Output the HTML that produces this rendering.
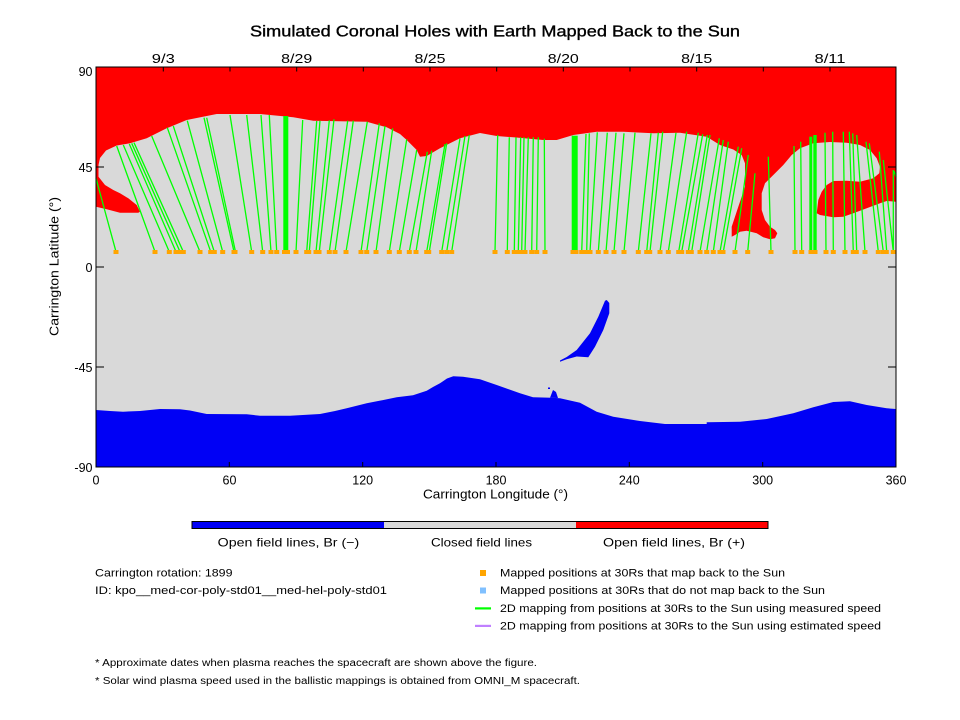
<!DOCTYPE html>
<html><head><meta charset="utf-8"><style>
html,body{margin:0;padding:0;background:#fff;}
svg{display:block;}
text{font-family:"Liberation Sans",sans-serif;fill:#000;}
</style></head><body>
<svg width="960" height="720" viewBox="0 0 960 720" xmlns="http://www.w3.org/2000/svg">
<rect width="960" height="720" fill="#fff"/>
<!-- title -->
<text x="495" y="36.5" font-size="16" text-anchor="middle" textLength="490" lengthAdjust="spacingAndGlyphs" stroke="#000" stroke-width="0.35">Simulated Coronal Holes with Earth Mapped Back to the Sun</text>
<!-- date labels -->
<g font-size="13" text-anchor="middle">
<text x="163.3" y="63" textLength="23" lengthAdjust="spacingAndGlyphs">9/3</text>
<text x="296.7" y="63" textLength="31" lengthAdjust="spacingAndGlyphs">8/29</text>
<text x="430" y="63" textLength="31" lengthAdjust="spacingAndGlyphs">8/25</text>
<text x="563.3" y="63" textLength="31" lengthAdjust="spacingAndGlyphs">8/20</text>
<text x="696.7" y="63" textLength="31" lengthAdjust="spacingAndGlyphs">8/15</text>
<text x="830" y="63" textLength="31" lengthAdjust="spacingAndGlyphs">8/11</text>
</g>
<!-- plot background -->
<rect x="96" y="67" width="800" height="400" fill="#d9d9d9"/>
<!-- red region -->
<polygon fill="#ff0000" points="96,67 896,67 896,201.7 886.7,201 880,203.3 866.7,208.3 853.3,213.3 843.3,216.7 833.3,217.3 820,215 816.7,213.3 818.3,200 821.7,191.7 826.7,185 833.3,181 846.7,180.7 860,181.7 873.3,178.3 879.3,173.3 880,166.7 876.7,158.3 870,150 860,145 846.7,142.7 830,142 813.3,143.3 800,148.3 791.7,155 783.3,165 773.3,175 765,183.3 761.7,193.3 761.7,210 765,220 770,226.7 775,230 777.3,233.3 775,238.3 770,239.3 763.3,237.3 756.7,233.3 746.7,230.7 740,231.7 735,235 731.7,236.7 731.7,226.7 735,216.7 738.3,206.7 741.7,196.7 745,186.7 745,163.3 741.7,155 733.3,149.5 720,145 706.7,136.7 680,132.7 653.3,133.3 623.3,131.7 596.7,131.7 573.3,135 556.7,140 543.3,140 513.3,137.3 496.7,136 480,133 460,138.3 440,148.3 426.7,156 420,156.7 416.7,150 406.7,140 400,134 386.7,127.3 366.7,121.7 313.3,120.7 293.3,117.3 260,114 216.7,114 186.7,120 166.7,128.3 146.7,138.3 130,143.3 116.7,145.5 106,150.5 100,158 98.5,165 98.5,176.7 105,185 113.3,190 120,193.3 128.3,198.3 136.7,205 140,211.7 138.3,212.7 120,212.7 106.7,209.3 96,206.7"/>
<!-- blue bottom -->
<polygon fill="#0000f5" points="96,467 96,410 110,411 123,411.7 140,411 160,409 180,409.3 190,410.5 206.7,414 246.7,414.3 260,415.7 290,415.7 320,414 335,411 346.7,408.3 366.7,403.3 396.7,397.3 413,395.3 426.7,390.7 433,387 440,383.3 447,378.5 453.3,376.3 463,376.7 480,379.3 496.7,385 520,393.3 533,397.3 551.7,397.7 560,398.3 580,402.7 596.7,411.7 613.3,416.7 640,421 665,424 706.7,424 706.7,422.3 740,421.7 766.7,419 793.3,413.3 813.3,407.3 833.3,402 850,401.3 866.7,405 886.7,408.3 896,409 896,467"/>
<polygon fill="#0000f5" points="550,397.7 553,390 556,392 558,398"/>
<rect x="548" y="387.5" width="2" height="1.5" fill="#0000f5"/>
<!-- blue crescent -->
<polygon fill="#0000f5" points="560,361.7 566.7,359.3 576.7,356.5 588.3,357.3 595,346.7 603.3,330 609.3,313.3 609.3,303 606.7,300 605,300.7 598.3,316.7 590,333.3 576.7,350 566.7,357 560,360.5"/>
<!-- green lines -->
<g stroke="#00ff00" stroke-width="1.3" fill="none">
<path d="M116,251.7L96,178.3M155,251.7L116.7,146M169.3,251.7L123.3,145M176,251.7L129.3,144M180,251.7L131.7,143.3M183.3,251.7L134,142.7M200,251.7L151.7,136M210.7,251.7L167.3,127.7M214.3,251.7L173.3,126M222.7,251.7L187.3,120.7M234,251.7L204,117.7M235.5,251.7L206.7,117.7M251.7,251.7L230,115M262.7,251.7L246.7,115M271,251.7L261,115M276.7,251.7L269.3,115M296,251.7L302.7,120M306.7,251.7L316.7,121M309.3,251.7L320,120.7M316,251.7L329.3,120.3M319.3,251.7L334,119.3M329.3,251.7L347.7,120.7M335,251.7L353.3,120.7M346,251.7L367.3,121.7M361,251.7L379.3,123.3M366.7,251.7L385,126M376,251.7L392.7,128.3M389.3,251.7L406.7,139.3M399.3,251.7L416.7,150M409.3,251.7L427.3,151.7M416,251.7L431.7,150.7M426.7,251.7L445,144M429.3,251.7L446.7,143.3M441.7,251.7L460,138.3M446.7,251.7L465,136M451.7,251.7L469.3,135M495,251.7L497.7,135"/>
<path d="M507.3,251.7L509.3,137.3M514.3,251.7L516,137.3M518.3,251.7L520.7,137.3M521.7,251.7L524,137.3M525,251.7L528.3,137.3M531.7,251.7L533.3,137.3M536.7,251.7L538.3,137.3M545,251.7L544.3,138.7M581.7,251.7L586,134M586.7,251.7L589.3,133.3M590,251.7L597.3,132.3M598.3,251.7L607.3,132.7M606,251.7L616,132.7M614,251.7L624,133.3M624,251.7L635,132.7M638.3,251.7L651,133.3M646.7,251.7L658.3,132.7M650,251.7L662.7,131.7M660,251.7L676,132.7M668.3,251.7L686.7,131.7M678.7,251.7L698.3,132.7M681.7,251.7L702.7,134.3M688.3,251.7L707.3,135M691.7,251.7L710,135M700,251.7L719.3,138.3M706.7,251.7L723.3,140M713.3,251.7L728.3,141.7M720,251.7L738.3,146.7M723.3,251.7L741.7,148.3M735,251.7L748.3,155M747.7,251.7L755,173.3M771,251.7L768.3,156.7M795,251.7L794,146M801.7,251.7L800.7,141.7M826,251.7L825,132.7M833.3,251.7L832.7,131.7M845,251.7L843.3,131.7M853.3,251.7L849.3,131.7M856.7,251.7L852.7,133.3M865,251.7L856.7,135M878.3,251.7L866,141.7M883.3,251.7L869.3,143.3M886.7,251.7L879.3,151.7M893.3,251.7L883.3,160M893.3,251.7L893.3,170M894,171L896,177"/>
</g>
<g fill="#00ff00">
<rect x="283.3" y="116" width="5" height="135.7"/>
<rect x="571.7" y="135.7" width="6" height="116"/>
<rect x="809.3" y="136.7" width="3" height="115"/>
<rect x="813.3" y="135" width="3.4" height="116.7"/>
</g>
<!-- orange dots -->
<g fill="#ffa500">
<rect x="113.5" y="250" width="5" height="4"/><rect x="152.5" y="250" width="5" height="4"/><rect x="166.8" y="250" width="5" height="4"/><rect x="173.5" y="250" width="5" height="4"/><rect x="177.5" y="250" width="5" height="4"/><rect x="180.8" y="250" width="5" height="4"/><rect x="197.5" y="250" width="5" height="4"/><rect x="208.2" y="250" width="5" height="4"/><rect x="211.8" y="250" width="5" height="4"/><rect x="220.2" y="250" width="5" height="4"/><rect x="231.5" y="250" width="6" height="4"/><rect x="249.2" y="250" width="5" height="4"/><rect x="260.2" y="250" width="5" height="4"/><rect x="268.5" y="250" width="5" height="4"/><rect x="274.2" y="250" width="5" height="4"/><rect x="282" y="250" width="8" height="4"/><rect x="293.5" y="250" width="5" height="4"/><rect x="304.2" y="250" width="7" height="4"/><rect x="313.5" y="250" width="8" height="4"/><rect x="326.8" y="250" width="5" height="4"/><rect x="332.5" y="250" width="5" height="4"/><rect x="343.5" y="250" width="5" height="4"/><rect x="358.5" y="250" width="5" height="4"/><rect x="364.2" y="250" width="5" height="4"/><rect x="373.5" y="250" width="5" height="4"/><rect x="386.8" y="250" width="5" height="4"/><rect x="396.8" y="250" width="5" height="4"/><rect x="406.8" y="250" width="5" height="4"/><rect x="413.5" y="250" width="5" height="4"/><rect x="424.2" y="250" width="7" height="4"/><rect x="439.2" y="250" width="5" height="4"/><rect x="444.2" y="250" width="5" height="4"/><rect x="449.2" y="250" width="5" height="4"/><rect x="492.5" y="250" width="5" height="4"/>
<rect x="504.8" y="250" width="5" height="4"/><rect x="511.8" y="250" width="5" height="4"/><rect x="515.8" y="250" width="8" height="4"/><rect x="522.5" y="250" width="5" height="4"/><rect x="529.2" y="250" width="5" height="4"/><rect x="534.2" y="250" width="5" height="4"/><rect x="542.5" y="250" width="5" height="4"/><rect x="570.5" y="250" width="8" height="4"/><rect x="579.2" y="250" width="9" height="4"/><rect x="587.5" y="250" width="5" height="4"/><rect x="595.8" y="250" width="5" height="4"/><rect x="603.5" y="250" width="5" height="4"/><rect x="611.5" y="250" width="5" height="4"/><rect x="621.5" y="250" width="5" height="4"/><rect x="635.8" y="250" width="5" height="4"/><rect x="644.2" y="250" width="8" height="4"/><rect x="657.5" y="250" width="5" height="4"/><rect x="665.8" y="250" width="5" height="4"/><rect x="676.2" y="250" width="8" height="4"/><rect x="685.8" y="250" width="8" height="4"/><rect x="697.5" y="250" width="5" height="4"/><rect x="704.2" y="250" width="5" height="4"/><rect x="710.8" y="250" width="5" height="4"/><rect x="717.5" y="250" width="8" height="4"/><rect x="732.5" y="250" width="5" height="4"/><rect x="745.2" y="250" width="5" height="4"/><rect x="768.5" y="250" width="5" height="4"/><rect x="792.5" y="250" width="5" height="4"/><rect x="799.2" y="250" width="5" height="4"/><rect x="808.5" y="250" width="9" height="4"/><rect x="823.5" y="250" width="5" height="4"/><rect x="830.8" y="250" width="5" height="4"/><rect x="842.5" y="250" width="5" height="4"/><rect x="850.8" y="250" width="8" height="4"/><rect x="862.5" y="250" width="5" height="4"/><rect x="875.8" y="250" width="5" height="4"/><rect x="880.8" y="250" width="8" height="4"/><rect x="890.8" y="250" width="5" height="4"/>
</g>
<!-- frame and ticks -->
<rect x="96" y="67" width="800" height="400" fill="none" stroke="#000" stroke-width="1"/>
<g stroke="#000" stroke-width="1">
<path d="M229.3,467v-5M362.7,467v-5M496,467v-5M629.3,467v-5M762.7,467v-5"/>
<path d="M163.3,67v4.5M230,67v4.5M296.7,67v4.5M363.3,67v4.5M430,67v4.5M496.7,67v4.5M563.3,67v4.5M630,67v4.5M696.7,67v4.5M763.3,67v4.5M830,67v4.5"/>
<path d="M96,167h8M96,267h8M96,367h8M896,167h-8M896,267h-8M896,367h-8"/>
</g>
<!-- y tick labels -->
<g font-size="12.5" text-anchor="end">
<text x="92.5" y="76">90</text>
<text x="92.5" y="172">45</text>
<text x="92.5" y="272">0</text>
<text x="92.5" y="372">-45</text>
<text x="92.5" y="472">-90</text>
</g>
<!-- x tick labels -->
<g font-size="12.5" text-anchor="middle">
<text x="96" y="484.5">0</text>
<text x="229.5" y="484.5">60</text>
<text x="362.7" y="484.5">120</text>
<text x="496" y="484.5">180</text>
<text x="629.3" y="484.5">240</text>
<text x="762.7" y="484.5">300</text>
<text x="896" y="484.5">360</text>
</g>
<text x="495.5" y="498.5" font-size="12.5" text-anchor="middle" textLength="145" lengthAdjust="spacingAndGlyphs">Carrington Longitude (°)</text>
<text transform="translate(58.5,266.5) rotate(-90)" font-size="12.5" text-anchor="middle" textLength="139" lengthAdjust="spacingAndGlyphs">Carrington Latitude (°)</text>
<!-- color bar -->
<rect x="192" y="521.5" width="192" height="7" fill="#0000f5"/>
<rect x="384" y="521.5" width="192" height="7" fill="#d9d9d9"/>
<rect x="576" y="521.5" width="192" height="7" fill="#ff0000"/>
<rect x="192" y="521.5" width="576" height="7" fill="none" stroke="#000" stroke-width="1"/>
<g font-size="12">
<text x="217.7" y="546.5" textLength="141.5" lengthAdjust="spacingAndGlyphs">Open field lines, Br (−)</text>
<text x="431" y="546.5" textLength="101" lengthAdjust="spacingAndGlyphs">Closed field lines</text>
<text x="603" y="546.5" textLength="142" lengthAdjust="spacingAndGlyphs">Open field lines, Br (+)</text>
</g>
<!-- left legend -->
<g font-size="11">
<text x="95" y="576.5" textLength="137.5" lengthAdjust="spacingAndGlyphs">Carrington rotation: 1899</text>
<text x="95" y="594" textLength="292" lengthAdjust="spacingAndGlyphs">ID: kpo__med-cor-poly-std01__med-hel-poly-std01</text>
</g>
<!-- right legend -->
<rect x="480" y="570" width="6" height="6" fill="#ffa500"/>
<rect x="480" y="587.5" width="6" height="6" fill="#80c0ff"/>
<rect x="475" y="607.3" width="16" height="2.2" fill="#00ff00"/>
<rect x="475" y="624.8" width="16" height="2.2" fill="#c080ff"/>
<g font-size="11">
<text x="500" y="576.5" textLength="285" lengthAdjust="spacingAndGlyphs">Mapped positions at 30Rs that map back to the Sun</text>
<text x="500" y="594" textLength="325" lengthAdjust="spacingAndGlyphs">Mapped positions at 30Rs that do not map back to the Sun</text>
<text x="500" y="612" textLength="381" lengthAdjust="spacingAndGlyphs">2D mapping from positions at 30Rs to the Sun using measured speed</text>
<text x="500" y="629.5" textLength="381" lengthAdjust="spacingAndGlyphs">2D mapping from positions at 30Rs to the Sun using estimated speed</text>
</g>
<!-- footnotes -->
<g font-size="10">
<text x="95" y="666" textLength="442" lengthAdjust="spacingAndGlyphs">* Approximate dates when plasma reaches the spacecraft are shown above the figure.</text>
<text x="95" y="684" textLength="485" lengthAdjust="spacingAndGlyphs">* Solar wind plasma speed used in the ballistic mappings is obtained from OMNI_M spacecraft.</text>
</g>
</svg>
</body></html>
